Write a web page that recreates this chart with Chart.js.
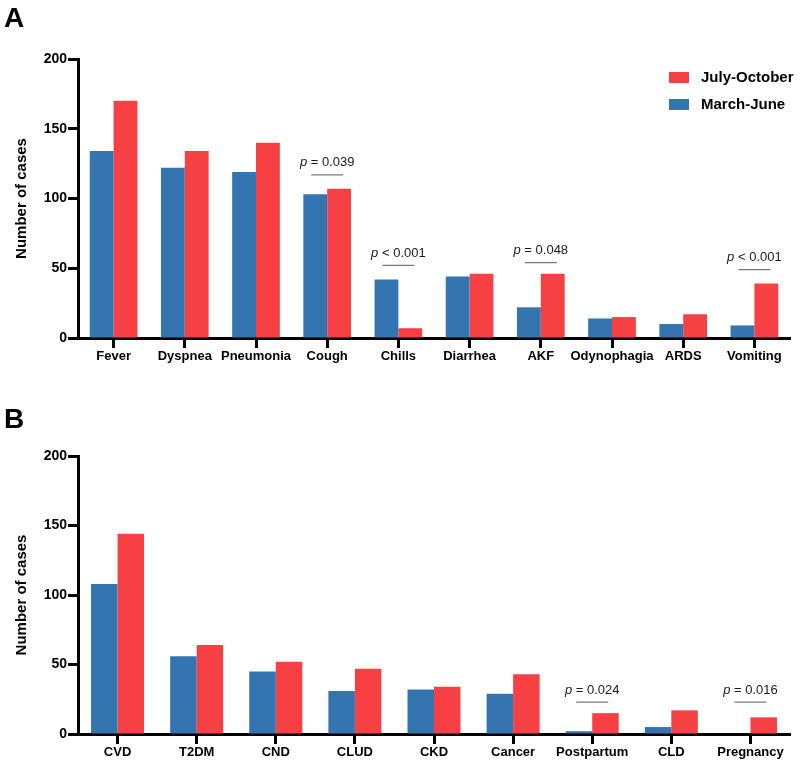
<!DOCTYPE html>
<html>
<head>
<meta charset="utf-8">
<script src="https://cdn.jsdelivr.net/npm/chart.js@4"></script>
<style>
  body { margin: 0; background: #fff; }
  .panel { position: relative; width: 800px; }
  #wrapA { height: 380px; }
  #wrapB { height: 383px; }
</style>
</head>
<body>
<div class="panel" id="wrapA"><canvas id="chartA"></canvas></div>
<div class="panel" id="wrapB"><canvas id="chartB"></canvas></div>
<script>
// panel A: symptoms
const symptoms = ['Fever', 'Dyspnea', 'Pneumonia', 'Cough', 'Chills', 'Diarrhea', 'AKF', 'Odynophagia', 'ARDS', 'Vomiting'];
const symptomsMarJun = [134, 122, 119, 103, 42, 44, 22, 14, 10, 9];
const symptomsJulOct = [170, 134, 140, 107, 7, 46, 46, 15, 17, 39];
const symptomsPvals = [
  { cat: 'Cough', text: ' = 0.039', at: 117 },
  { cat: 'Chills', text: ' < 0.001', at: 52 },
  { cat: 'AKF', text: ' = 0.048', at: 54 },
  { cat: 'Vomiting', text: ' < 0.001', at: 49 }
];

// panel B: comorbidities
const comorbid = ['CVD', 'T2DM', 'CND', 'CLUD', 'CKD', 'Cancer', 'Postpartum', 'CLD', 'Pregnancy'];
const comorbidMarJun = [108, 56, 45, 31, 32, 29, 2, 5, 0];
const comorbidJulOct = [144, 64, 52, 47, 34, 43, 15, 17, 12];
const comorbidPvals = [
  { cat: 'Postpartum', text: ' = 0.024', at: 23 },
  { cat: 'Pregnancy', text: ' = 0.016', at: 23 }
];

const yTicks = [0, 50, 100, 150, 200];

const BLUE = '#3474b0';
const RED = '#f74044';
const FONT = "'Liberation Sans', Arial, Helvetica, sans-serif";

const pvalPlugin = {
  id: 'pvals',
  afterDatasetsDraw(chart, args, opts) {
    const ctx = chart.ctx;
    const xs = chart.scales.x, ys = chart.scales.y;
    ctx.save();
    opts.items.forEach(p => {
      const x = xs.getPixelForValue(chart.data.labels.indexOf(p.cat));
      const y = ys.getPixelForValue(p.at);
      ctx.strokeStyle = '#7a7a7a';
      ctx.lineWidth = 1.3;
      ctx.beginPath();
      ctx.moveTo(x - 16, y);
      ctx.lineTo(x + 16, y);
      ctx.stroke();
      ctx.fillStyle = '#1a1a1a';
      ctx.textBaseline = 'middle';
      ctx.textAlign = 'left';
      ctx.font = 'italic 13px ' + FONT;
      const wp = ctx.measureText('p').width;
      ctx.font = '13px ' + FONT;
      const wr = ctx.measureText(p.text).width;
      const x0 = x - (wp + wr) / 2;
      ctx.font = 'italic 13px ' + FONT;
      ctx.fillText('p', x0, y - 12);
      ctx.font = '13px ' + FONT;
      ctx.fillText(p.text, x0 + wp, y - 12);
    });
    ctx.restore();
  }
};

const panelPlugin = {
  id: 'panelInfo',
  afterDraw(chart, args, opts) {
    const ctx = chart.ctx;
    ctx.save();
    ctx.fillStyle = '#000';
    ctx.font = 'bold 28px ' + FONT;
    ctx.textBaseline = 'alphabetic';
    ctx.textAlign = 'left';
    ctx.fillText(opts.letter, opts.letterX, opts.letterY);
    if (opts.legend) {
      // legend listed in reverse dataset order
      const ds = chart.data.datasets.slice().reverse();
      ds.forEach((d, i) => {
        const y = 72 + i * 27;
        ctx.fillStyle = d.backgroundColor;
        ctx.fillRect(669, y, 20, 11);
        ctx.fillStyle = '#000';
        ctx.font = 'bold 15px ' + FONT;
        ctx.textBaseline = 'middle';
        ctx.fillText(d.label, 701, y + 6);
      });
    }
    ctx.restore();
  }
};

function makeChart(id, labels, marJun, julOct, pvals, topPad, xHeight, letter, letterY, legend) {
  return new Chart(document.getElementById(id), {
    type: 'bar',
    data: {
      labels: labels,
      datasets: [
        { label: 'March-June', data: marJun, backgroundColor: BLUE },
        { label: 'July-October', data: julOct, backgroundColor: RED }
      ]
    },
    options: {
      responsive: true,
      maintainAspectRatio: false,
      animation: false,
      categoryPercentage: 0.67,
      barPercentage: 1.0,
      layout: { padding: { left: 0, top: topPad, right: 10, bottom: 0 } },
      plugins: {
        legend: { display: false },
        tooltip: { enabled: false },
        pvals: { items: pvals },
        panelInfo: { letter: letter, letterX: 4, letterY: letterY, legend: legend }
      },
      scales: {
        x: {
          offset: true,
          grid: { offset: false, drawOnChartArea: false, drawTicks: true, tickLength: 10, tickWidth: 3, tickColor: '#000' },
          border: { color: '#000', width: 3 },
          ticks: { color: '#000', padding: 1, maxRotation: 0, autoSkip: false, font: { family: FONT, size: 13, weight: 'bold' } },
          afterFit(s) { s.height = xHeight; }
        },
        y: {
          min: 0,
          max: 200,
          afterBuildTicks(s) { s.ticks = yTicks.map(v => ({ value: v })); },
          grid: { drawOnChartArea: false, drawTicks: true, tickLength: 10, tickWidth: 3, tickColor: '#000' },
          border: { color: '#000', width: 3 },
          ticks: { color: '#000', padding: 1, font: { family: FONT, size: 14, weight: 'bold' } },
          title: { display: true, text: 'Number of cases', color: '#000', padding: { top: 13, bottom: 0 }, font: { family: FONT, size: 15, weight: 'bold' } },
          afterFit(s) { s.width = 78; }
        }
      }
    },
    plugins: [pvalPlugin, panelPlugin]
  });
}

makeChart('chartA', symptoms, symptomsMarJun, symptomsJulOct, symptomsPvals, 59, 42, 'A', 27, true);
makeChart('chartB', comorbid, comorbidMarJun, comorbidJulOct, comorbidPvals, 76, 29, 'B', 48, false);
</script>
</body>
</html>
